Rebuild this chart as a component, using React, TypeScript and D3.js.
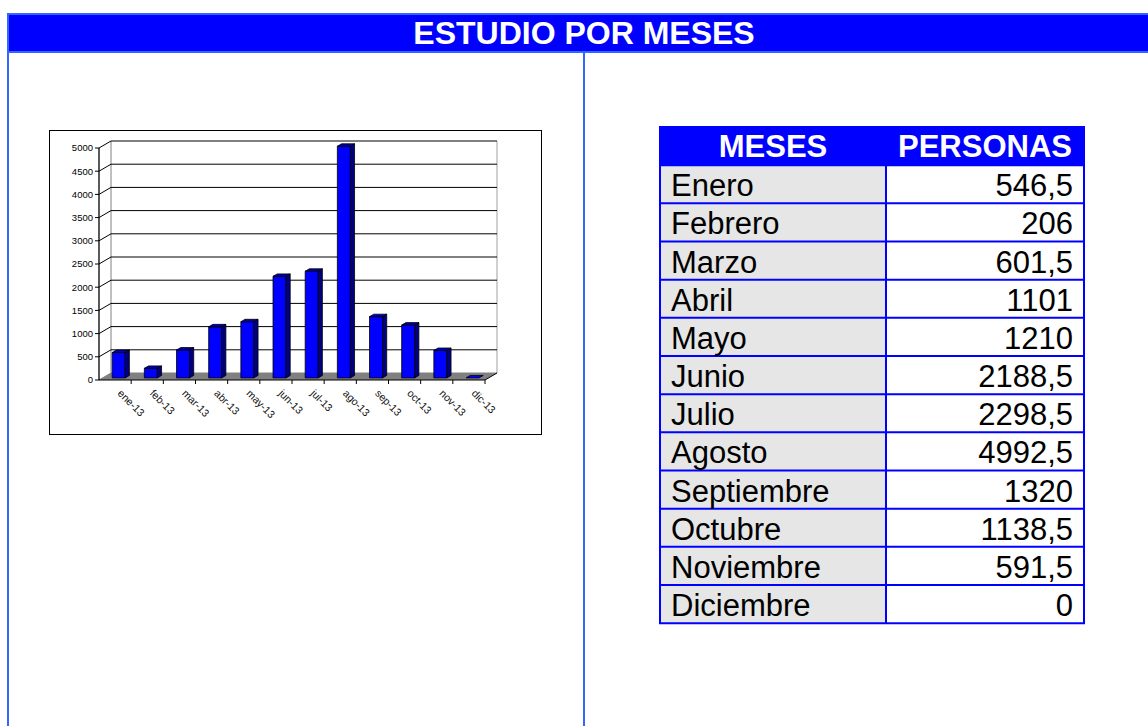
import React from "react";
import * as d3 from "d3";

const chartLabels = ["ene-13","feb-13","mar-13","abr-13","may-13","jun-13","jul-13","ago-13","sep-13","oct-13","nov-13","dic-13"];
const monthNames = ["Enero","Febrero","Marzo","Abril","Mayo","Junio","Julio","Agosto","Septiembre","Octubre","Noviembre","Diciembre"];
const personas = [546.5, 206, 601.5, 1101, 1210, 2188.5, 2298.5, 4992.5, 1320, 1138.5, 591.5, 0];
const yTicks = [0, 500, 1000, 1500, 2000, 2500, 3000, 3500, 4000, 4500, 5000];
const title = "ESTUDIO POR MESES";
const tableHeaders = ["MESES", "PERSONAS"];

const FONT = "'Liberation Sans', Arial, Helvetica, sans-serif";
const BORDER = "#3366ff";

export default function App() {
  // chart geometry
  const x = d3.scaleBand<string>().domain(chartLabels).range([99, 485]).paddingInner(0).paddingOuter(0);
  const y = d3.scaleLinear().domain([0, 5000]).range([380, 148]);
  const DX = 12, DY = -7;
  const f1 = 0.3, f2 = 0.65;
  const barW = 13;
  const [x0r, x1r] = x.range() as [number, number];
  const yTop = y(5000), yBot = y(0);

  // table geometry
  const tx0 = 660, tx1 = 886, tx2 = 1084;
  const ty0 = 127, rowH = 38.1667;
  const rowY = d3.scaleLinear().domain([0, 1]).range([ty0, ty0 + rowH]);
  const fmt = (v: number) => String(v).replace(".", ",");

  return (
    <svg width={1148} height={726} style={{ position: "absolute", left: 0, top: 0, background: "#fff" }} fontFamily={FONT}>
      {/* frame */}
      <rect x={8} y={14} width={1160} height={38} fill="#0000ff" />
      <line x1={7} x2={1160} y1={14} y2={14} stroke={BORDER} strokeWidth={2} />
      <line x1={7} x2={1160} y1={52} y2={52} stroke={BORDER} strokeWidth={2} />
      <line x1={8} x2={8} y1={13} y2={726} stroke={BORDER} strokeWidth={2} />
      <line x1={584} x2={584} y1={52} y2={726} stroke={BORDER} strokeWidth={2} />
      <text x={584} y={44} textAnchor="middle" fill="#fff" fontWeight="bold" fontSize={32}>{title}</text>

      {/* chart box */}
      <rect x={49.5} y={130.5} width={492} height={304} fill="#fff" stroke="#000" strokeWidth={1} />

      {/* floor */}
      <polygon points={`${x0r},${yBot} ${x1r},${yBot} ${x1r + DX},${yBot + DY} ${x0r + DX},${yBot + DY}`} fill="#808080" />
      {/* left wall and back wall edges */}
      <line x1={x0r + DX} x2={x0r + DX} y1={yBot + DY} y2={yTop + DY} stroke="#808080" />
      <line x1={x1r + DX} x2={x1r + DX} y1={yBot + DY} y2={yTop + DY} stroke="#a0a0a0" />
      {/* gridlines */}
      {yTicks.map((t) => (
        <path key={t} d={`M${x0r},${y(t)}L${x0r + DX},${y(t) + DY}L${x1r + DX},${y(t) + DY}`} fill="none"
          stroke={t === 0 ? "#808080" : "#000"} strokeWidth={1} />
      ))}
      {/* y axis */}
      <line x1={x0r} x2={x0r} y1={yBot} y2={yTop} stroke="#000" strokeWidth={1.3} />
      {yTicks.map((t) => (
        <g key={"yt" + t}>
          <line x1={x0r - 4} x2={x0r} y1={y(t)} y2={y(t)} stroke="#000" />
          <text x={x0r - 6} y={y(t)} dy="0.35em" textAnchor="end" fontSize={9.5} fill="#000">{t}</text>
        </g>
      ))}
      {/* x axis */}
      <line x1={x0r} x2={x1r} y1={yBot} y2={yBot} stroke="#000" strokeWidth={1} />
      <line x1={x1r} x2={x1r + DX} y1={yBot} y2={yBot + DY} stroke="#000" strokeWidth={1} />
      {chartLabels.map((c) => (
        <line key={"xt" + c} x1={(x(c) as number) + x.bandwidth()} x2={(x(c) as number) + x.bandwidth()} y1={yBot} y2={yBot + 4} stroke="#000" />
      ))}
      {chartLabels.map((c) => {
        const cx = (x(c) as number) + x.bandwidth() / 2;
        return (
          <text key={"xl" + c} transform={`translate(${cx + 2},${yBot + 14}) rotate(45)`} fontSize={10.5} fill="#111">{c}</text>
        );
      })}
      {/* bars */}
      {personas.map((v, i) => {
        const c = chartLabels[i];
        const bx = (x(c) as number) + (x.bandwidth() - barW) / 2 + f1 * DX;
        const by0 = yBot + f1 * DY;
        const byT = y(v) + f1 * DY;
        const sx = (f2 - f1) * DX, sy = (f2 - f1) * DY;
        return (
          <g key={"b" + c} stroke="#000" strokeWidth={0.8} strokeLinejoin="round">
            {v > 0 && <rect x={bx} y={byT} width={barW} height={by0 - byT} fill="#0000ff" />}
            {v > 0 && (
              <polygon points={`${bx + barW},${byT} ${bx + barW + sx},${byT + sy} ${bx + barW + sx},${by0 + sy} ${bx + barW},${by0}`} fill="#000080" />
            )}
            <polygon points={`${bx},${byT} ${bx + sx},${byT + sy} ${bx + barW + sx},${byT + sy} ${bx + barW},${byT}`} fill={v > 0 ? "#0000b0" : "#0000ff"} />
          </g>
        );
      })}

      {/* table */}
      <rect x={tx0} y={rowY(0)} width={tx2 - tx0} height={rowH} fill="#0000ff" />
      {monthNames.map((m, i) => (
        <g key={"r" + m}>
          <rect x={tx0} y={rowY(i + 1)} width={tx1 - tx0} height={rowH} fill="#e6e6e6" />
          <rect x={tx1} y={rowY(i + 1)} width={tx2 - tx1} height={rowH} fill="#fff" />
        </g>
      ))}
      {d3.range(monthNames.length + 2).map((k) => (
        <line key={"h" + k} x1={tx0 - 1} x2={tx2 + 1} y1={rowY(k)} y2={rowY(k)} stroke="#0000ff" strokeWidth={2} />
      ))}
      {[tx0, tx1, tx2].map((xx) => (
        <line key={"v" + xx} x1={xx} x2={xx} y1={rowY(0)} y2={rowY(monthNames.length + 1)} stroke="#0000ff" strokeWidth={2} />
      ))}
      <text x={(tx0 + tx1) / 2} y={rowY(0) + 30} textAnchor="middle" fontSize={31} fontWeight="bold" fill="#fff">{tableHeaders[0]}</text>
      <text x={(tx1 + tx2) / 2} y={rowY(0) + 30} textAnchor="middle" fontSize={31} fontWeight="bold" fill="#fff">{tableHeaders[1]}</text>
      {monthNames.map((m, i) => (
        <g key={"t" + m}>
          <text x={tx0 + 11} y={rowY(i + 1) + 31} fontSize={31} fill="#000">{m}</text>
          <text x={tx2 - 11} y={rowY(i + 1) + 31} fontSize={31} textAnchor="end" fill="#000">{fmt(personas[i])}</text>
        </g>
      ))}
    </svg>
  );
}
